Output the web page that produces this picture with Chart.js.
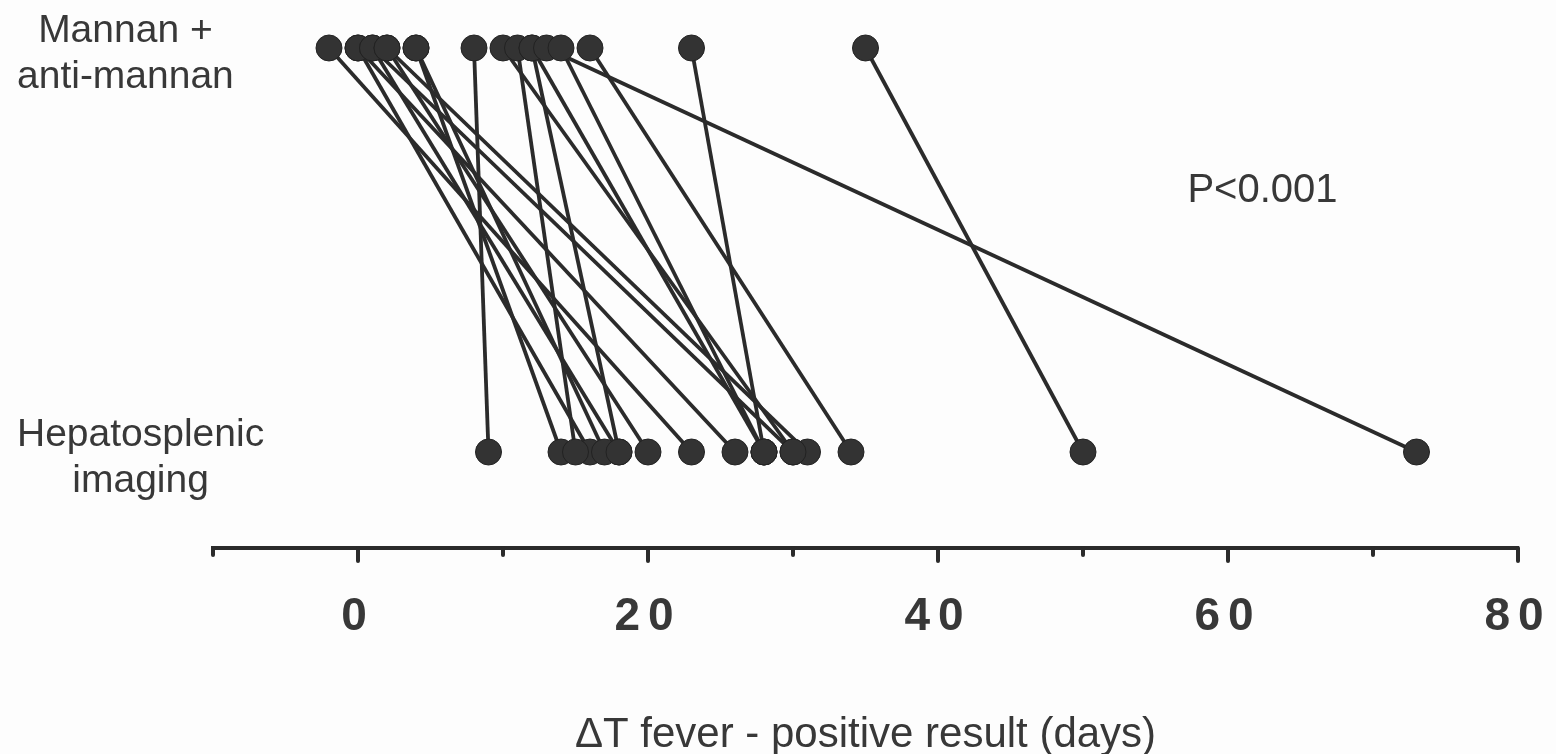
<!DOCTYPE html>
<html>
<head>
<meta charset="utf-8">
<title>Mannan + anti-mannan vs hepatosplenic imaging</title>
<script src="https://cdn.jsdelivr.net/npm/chart.js@4.4.1/dist/chart.umd.min.js"></script>
<style>
  body { margin: 0; background: #fdfdfd; }
  #chart { display: block; }
</style>
</head>
<body>
<canvas id="chart" width="1556" height="754"></canvas>
<script>
// one entry per patient: days from fever to a positive result, for each test
const mannanDays  = [-2, 0, 0, 1, 1, 2, 2, 4, 4, 8, 10, 11, 12, 12, 13, 14, 16, 23, 35];
const imagingDays = [23, 16, 26, 18, 30, 20, 31, 17, 14, 9, 30, 15, 18, 28, 73, 28, 34, 28, 50];

const groupLabels = [['Mannan +', 'anti-mannan'], ['Hepatosplenic', 'imaging']];
const groupRows = [1, 0];
const majorTicks = [0, 20, 40, 60, 80];
const minorTicks = [-10, 10, 30, 50, 70];
const pValueText = 'P<0.001';
const xTitle = '\u0394T fever - positive result (days)';

const ink = '#2b2b2b';
const textColor = '#383838';
const fontFamily = '"Liberation Sans", Arial, sans-serif';

// the connecting lines, one dataset per patient
const pairSets = mannanDays.map((d, i) => ({
  data: [{ x: d, y: groupRows[0] }, { x: imagingDays[i], y: groupRows[1] }],
  showLine: true,
  borderColor: ink,
  borderWidth: 3.8,
  pointRadius: 0,
  order: 2
}));

// all the dots on top of the lines
const dotSet = {
  data: mannanDays.map(d => ({ x: d, y: groupRows[0] }))
    .concat(imagingDays.map(d => ({ x: d, y: groupRows[1] }))),
  showLine: false,
  pointRadius: 13,
  pointBackgroundColor: '#333333',
  pointBorderColor: '#222222',
  pointBorderWidth: 1,
  order: 1
};

// axis ticks, tick labels, row labels and the p value
const overlay = {
  id: 'overlay',
  afterDraw(chart) {
    const { ctx, chartArea } = chart;
    const x = chart.scales.x;
    const y = chart.scales.y;
    const base = chartArea.bottom;
    ctx.save();
    ctx.strokeStyle = ink;
    ctx.lineWidth = 4;
    ctx.lineCap = 'round';
    const tick = (v, len) => {
      const px = x.getPixelForValue(v);
      ctx.beginPath();
      ctx.moveTo(px, base);
      ctx.lineTo(px, base + len);
      ctx.stroke();
    };
    minorTicks.forEach(v => tick(v, 7));
    majorTicks.forEach(v => tick(v, 13));

    ctx.fillStyle = textColor;
    ctx.font = 'bold 46px ' + fontFamily;
    ctx.letterSpacing = '8px';
    ctx.textAlign = 'center';
    ctx.textBaseline = 'alphabetic';
    majorTicks.forEach(v => ctx.fillText(String(v), x.getPixelForValue(v), base + 82));
    ctx.letterSpacing = '0px';

    ctx.font = '39px ' + fontFamily;
    groupLabels.forEach((lines, i) => {
      const py = y.getPixelForValue(groupRows[i]);
      const w = Math.max(...lines.map(t => ctx.measureText(t).width));
      lines.forEach((t, j) => ctx.fillText(t, 17 + w / 2, py - 6 + j * 46));
    });

    ctx.font = '40px ' + fontFamily;
    ctx.textAlign = 'left';
    ctx.fillText(pValueText, x.getPixelForValue(57.2), y.getPixelForValue(0.62));
    ctx.restore();
  }
};

new Chart(document.getElementById('chart'), {
  type: 'scatter',
  data: { datasets: pairSets.concat([dotSet]) },
  options: {
    responsive: false,
    animation: false,
    devicePixelRatio: 1,
    layout: { autoPadding: false, padding: { left: 0, right: 38, top: 8, bottom: 0 } },
    plugins: { legend: { display: false }, tooltip: { enabled: false } },
    scales: {
      x: {
        type: 'linear',
        min: -10,
        max: 80,
        grid: { display: false },
        border: { display: true, color: ink, width: 4 },
        ticks: { display: false },
        title: {
          display: true,
          text: xTitle,
          color: textColor,
          font: { family: fontFamily, size: 42, lineHeight: 0.9 },
          padding: { top: 0, bottom: 0 }
        },
        afterFit: s => { s.height = 206; }
      },
      y: {
        type: 'linear',
        min: -0.2376,
        max: 1.099,
        grid: { display: false },
        border: { display: false },
        ticks: { display: false },
        afterFit: s => { s.width = 213; }
      }
    }
  },
  plugins: [overlay]
});
</script>
</body>
</html>
